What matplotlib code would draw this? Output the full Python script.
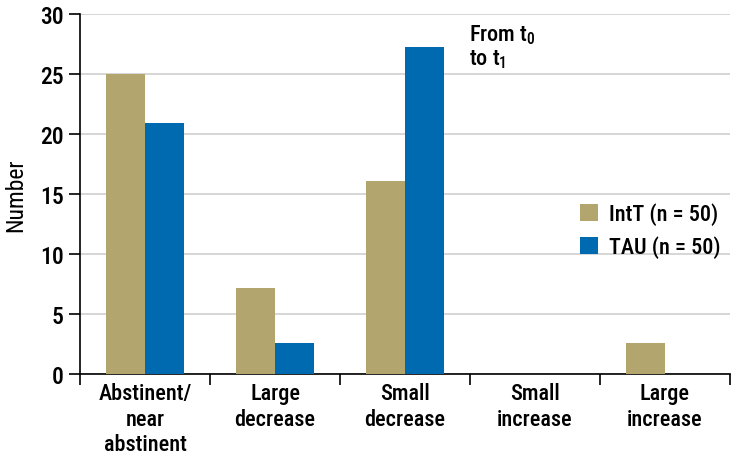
import numpy as np
import matplotlib
matplotlib.use("Agg")
import matplotlib.pyplot as plt

plt.rcParams['font.family'] = ['Roboto Condensed', 'DejaVu Sans']
plt.rcParams['font.weight'] = 'medium'
plt.rcParams['mathtext.fontset'] = 'custom'
plt.rcParams['mathtext.rm'] = 'Roboto Condensed:medium'
plt.rcParams['mathtext.it'] = 'Roboto Condensed:medium'

categories = ["Abstinent/\nnear\nabstinent", "Large\ndecrease", "Small\ndecrease",
              "Small\nincrease", "Large\nincrease"]
intt = [25, 7.2, 16.1, 0, 2.6]
tau = [20.9, 2.6, 27.3, 0, 0]
labels = ["IntT (n = 50)", "TAU (n = 50)"]
colors = ["#b2a56e", "#006ab0"]

fig = plt.figure(figsize=(7.35, 4.6), dpi=100)
ax = fig.add_axes([0.109, 0.185, 0.884, 0.782])

x = np.arange(len(categories))
w = 0.3
ax.bar(x - w / 2, intt, w, color=colors[0], label=labels[0], zorder=3)
ax.bar(x + w / 2, tau, w, color=colors[1], label=labels[1], zorder=3)

ax.set_xlim(-0.5, len(categories) - 0.5)
ax.set_ylim(0, 30)
ax.set_yticks(range(0, 31, 5))
ax.yaxis.grid(True, color="#d0d0d0", linewidth=1.2, zorder=0)
ax.set_axisbelow(True)

ax.set_xticks(x)
ax.set_xticklabels(categories, fontsize=16, linespacing=1.2)
ax.tick_params(axis='x', length=0, pad=6)
ax.set_xticks(np.arange(-0.5, len(categories)), minor=True)
ax.tick_params(axis='x', which='minor', length=8, width=1.2, direction='out')
ax.tick_params(axis='y', labelsize=17, length=8, width=1.2, pad=4)

for s in ['top', 'right']:
    ax.spines[s].set_visible(False)
for s in ['left', 'bottom']:
    ax.spines[s].set_linewidth(1.2)

ax.set_ylabel("Number", fontsize=17, labelpad=9)

ax.text(2.49, 29.3, "From t$_0$\nto t$_1$", fontsize=16, va='top', ha='left',
        linespacing=1.1)

ax.legend(loc='center right', bbox_to_anchor=(1.0, 0.4), frameon=False,
          fontsize=16, handlelength=0.8, handleheight=0.8, handletextpad=0.5,
          labelspacing=0.45, borderaxespad=0.0)

fig.savefig("out.png", dpi=100)
